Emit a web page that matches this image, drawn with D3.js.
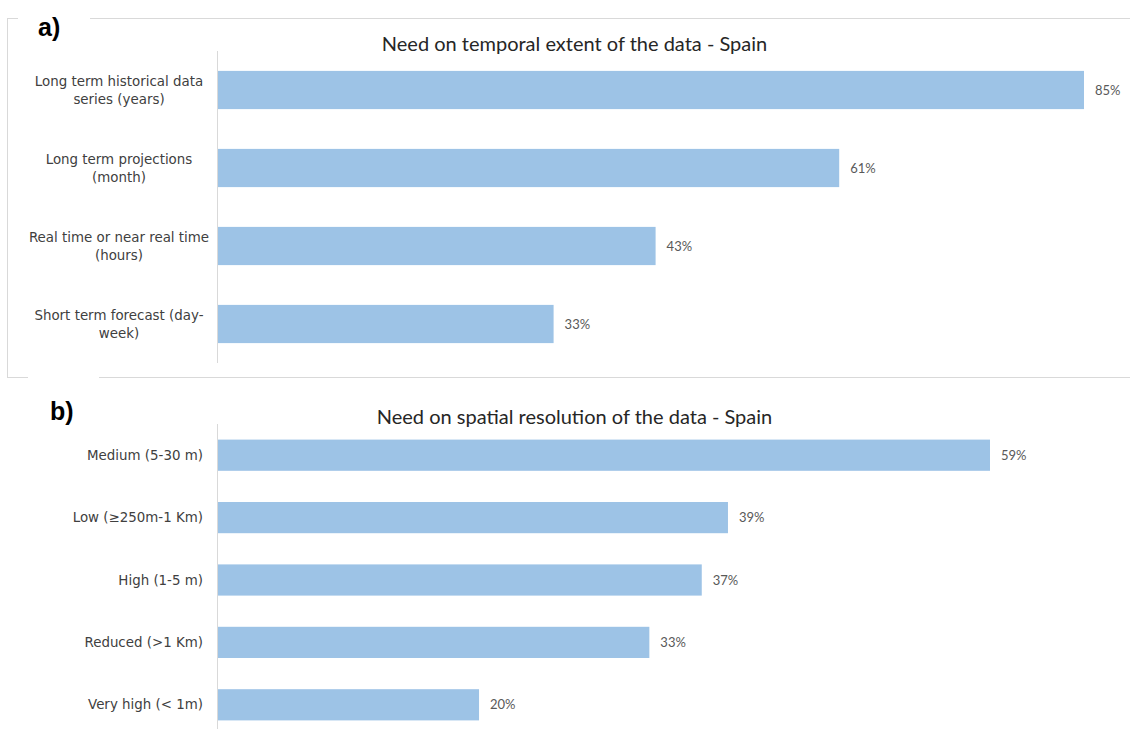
<!DOCTYPE html>
<html>
<head>
<meta charset="utf-8">
<script src="https://cdn.jsdelivr.net/npm/d3@7"></script>
<style>
  body { margin: 0; background: #fff; }
  svg { display: block; }
</style>
</head>
<body>
<svg id="chart" width="1130" height="729"></svg>
<script>
// panel a: temporal extent
const temporalCats = [
  ["Long term historical data", "series (years)"],
  ["Long term projections", "(month)"],
  ["Real time or near real time", "(hours)"],
  ["Short term forecast (day-", "week)"]
];
const temporalVals = [0.85, 0.61, 0.43, 0.33];

// panel b: spatial resolution
const spatialCats = [
  ["Medium (5-30 m)"],
  ["Low (\u2265250m-1 Km)"],
  ["High (1-5 m)"],
  ["Reduced (>1 Km)"],
  ["Very high (< 1m)"]
];
const spatialVals = [0.59, 0.39, 0.37, 0.33, 0.20];

const barColor = "#9dc3e6";
const lineColor = "#d9d9d9";
const pct = d3.format(".0%");

const svg = d3.select("#chart");

// frame round panel a, with gaps where the letters sit
svg.append("rect")
  .attr("x", 7.5).attr("y", 18.5)
  .attr("width", 1140).attr("height", 359)
  .attr("fill", "none").attr("stroke", lineColor);
svg.append("rect").attr("x", 18).attr("y", 10).attr("width", 72).attr("height", 20).attr("fill", "#fff");
svg.append("rect").attr("x", 28).attr("y", 372).attr("width", 71).attr("height", 12).attr("fill", "#fff");

function drawPanel(opts) {
  const { cats, vals, title, titleY, top, bottom, xMax, padding } = opts;
  const left = 217;
  const idx = d3.range(vals.length);

  const y = d3.scaleBand().domain(idx).range([top, bottom]).paddingInner(padding).paddingOuter(padding / 2);
  const x = d3.scaleLinear().domain([0, vals[0]]).range([left, xMax]);

  const g = svg.append("g");

  g.append("text")
    .attr("x", 574.5).attr("y", titleY)
    .attr("text-anchor", "middle")
    .attr("font-family", "Lato")
    .attr("font-size", 20)
    .attr("fill", "#262626")
    .text(title);

  g.selectAll("rect.bar")
    .data(idx)
    .join("rect")
    .attr("class", "bar")
    .attr("x", left)
    .attr("y", i => y(i))
    .attr("width", i => x(vals[i]) - left)
    .attr("height", y.bandwidth())
    .attr("fill", barColor);

  // vertical category axis line
  g.append("line")
    .attr("x1", left + 0.5).attr("x2", left + 0.5)
    .attr("y1", top).attr("y2", bottom)
    .attr("stroke", lineColor);

  g.selectAll("text.val")
    .data(idx)
    .join("text")
    .attr("class", "val")
    .attr("x", i => x(vals[i]) + 11)
    .attr("y", i => y(i) + y.bandwidth() / 2)
    .attr("dy", "0.35em")
    .attr("font-family", "Lato")
    .attr("font-size", 13)
    .attr("fill", "#595959")
    .text(i => pct(vals[i]));

  const lab = g.selectAll("text.cat")
    .data(idx)
    .join("text")
    .attr("class", "cat")
    .attr("text-anchor", "middle")
    .attr("font-family", "DejaVu Sans")
    .attr("font-size", 13.4)
    .attr("fill", "#404040");

  lab.each(function (i) {
    const lines = cats[i];
    const cy = y(i) + y.bandwidth() / 2;
    const t = d3.select(this);
    const lh = 18;
    lines.forEach((s, k) => {
      t.append("tspan")
        .attr("x", 119)
        .attr("y", cy + (k - (lines.length - 1) / 2) * lh)
        .attr("dy", "0.35em")
        .text(s);
    });
    if (lines.length === 1) {
      t.attr("text-anchor", "end");
      t.selectAll("tspan").attr("x", 203);
    }
  });
}

drawPanel({
  cats: temporalCats, vals: temporalVals,
  title: "Need on temporal extent of the data - Spain", titleY: 51,
  top: 51, bottom: 363, xMax: 1084, padding: 0.51
});

drawPanel({
  cats: spatialCats, vals: spatialVals,
  title: "Need on spatial resolution of the data - Spain", titleY: 424,
  top: 424, bottom: 736, xMax: 990, padding: 0.5
});

// panel letters
svg.append("text").attr("x", 38).attr("y", 36)
  .attr("font-family", "Liberation Sans").attr("font-weight", "bold")
  .attr("font-size", 25).attr("fill", "#000").text("a)");
svg.append("text").attr("x", 50).attr("y", 420)
  .attr("font-family", "Liberation Sans").attr("font-weight", "bold")
  .attr("font-size", 25).attr("fill", "#000").text("b)");
</script>
</body>
</html>
